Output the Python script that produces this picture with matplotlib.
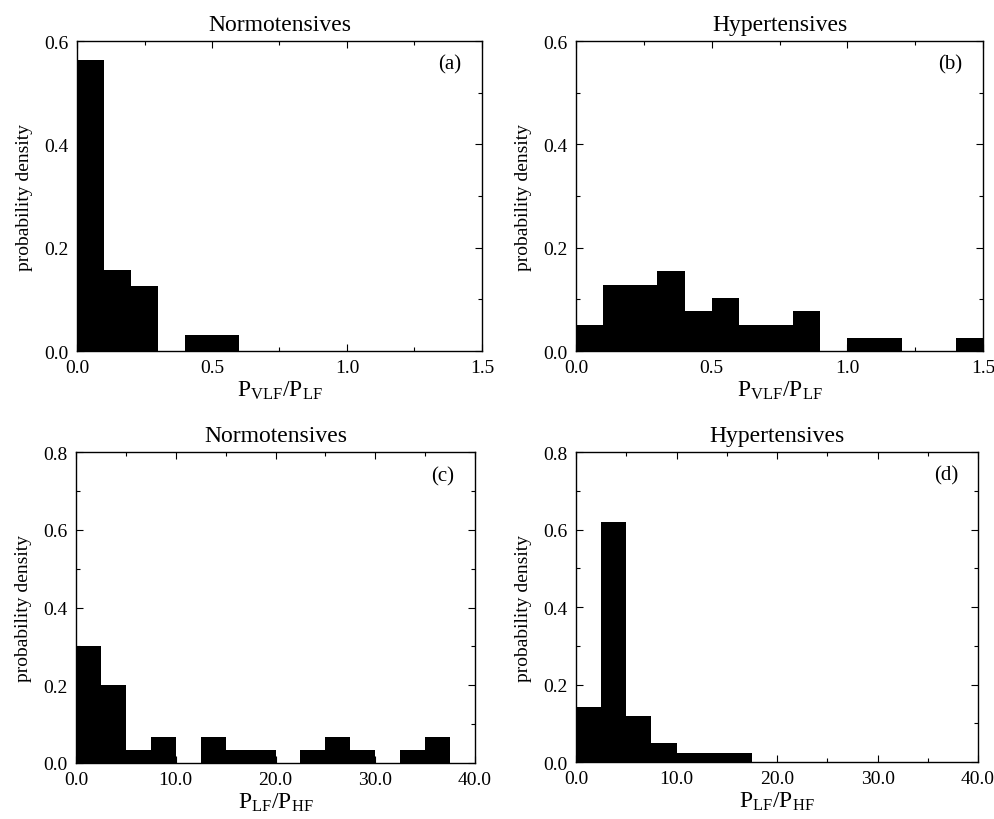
import numpy as np
import matplotlib
matplotlib.use("Agg")
import matplotlib.pyplot as plt
from matplotlib.ticker import MultipleLocator, FormatStrFormatter

plt.rcParams["font.family"] = ["Liberation Serif", "DejaVu Serif"]
plt.rcParams["mathtext.fontset"] = "custom"
plt.rcParams["mathtext.rm"] = "Liberation Serif"
plt.rcParams["mathtext.it"] = "Liberation Serif:italic"

# histogram heights (fraction per bin)
vlf_width = 0.1
vlf_normo = [0.5625, 0.156, 0.125, 0.0, 0.031, 0.031, 0, 0, 0, 0, 0, 0, 0, 0, 0]
vlf_hyper = [0.051, 0.128, 0.128, 0.154, 0.077, 0.103, 0.051, 0.051, 0.077, 0.0,
             0.026, 0.026, 0.0, 0.0, 0.026]

lfhf_width = 2.5
lfhf_normo = [0.30, 0.20, 0.033, 0.067, 0.0, 0.067, 0.033, 0.033, 0.0, 0.033,
              0.067, 0.033, 0.0, 0.033, 0.067, 0.0]
lfhf_hyper = [0.143, 0.619, 0.119, 0.048, 0.024, 0.024, 0.024, 0, 0, 0, 0, 0, 0, 0, 0, 0]

label_vlf = r"$\mathrm{P_{VLF}/P_{LF}}$"
label_lfhf = r"$\mathrm{P_{LF}/P_{HF}}$"

panels = [
    # heights, width, title, tag, xlabel, xmax, xmajor, ymax, rect
    (vlf_normo, vlf_width, "Normotensives", "(a)", label_vlf, 1.5, 0.5, 0.6,
     [0.0774, 0.5707, 0.407, 0.378]),
    (vlf_hyper, vlf_width, "Hypertensives", "(b)", label_vlf, 1.5, 0.5, 0.6,
     [0.579, 0.5707, 0.409, 0.378]),
    (lfhf_normo, lfhf_width, "Normotensives", "(c)", label_lfhf, 40.0, 10.0, 0.8,
     [0.0764, 0.0683, 0.401, 0.379]),
    (lfhf_hyper, lfhf_width, "Hypertensives", "(d)", label_lfhf, 40.0, 10.0, 0.8,
     [0.579, 0.0695, 0.404, 0.378]),
]

fig = plt.figure(figsize=(9.95, 8.2), dpi=100)

for heights, w, title, tag, xlab, xmax, xmaj, ymax, rect in panels:
    ax = fig.add_axes(rect)
    left = np.arange(len(heights)) * w
    ax.bar(left, heights, width=w, align="edge", color="black", linewidth=0)
    ax.set_xlim(0, xmax)
    ax.set_ylim(0, ymax)
    ax.xaxis.set_major_locator(MultipleLocator(xmaj))
    ax.xaxis.set_minor_locator(MultipleLocator(xmaj / 2))
    ax.yaxis.set_major_locator(MultipleLocator(0.2))
    ax.yaxis.set_minor_locator(MultipleLocator(0.1))
    ax.xaxis.set_major_formatter(FormatStrFormatter("%.1f"))
    ax.yaxis.set_major_formatter(FormatStrFormatter("%.1f"))
    ax.tick_params(which="both", direction="in", top=True, right=True,
                   labelsize=14, width=0.8)
    ax.tick_params(which="major", length=5, pad=6)
    ax.tick_params(which="minor", length=3)
    for s in ax.spines.values():
        s.set_linewidth(1.0)
    ax.set_title(title, fontsize=17, pad=8)
    ax.set_xlabel(xlab, fontsize=17, labelpad=2)
    ax.set_ylabel("probability density", fontsize=14, labelpad=8)
    ax.text(0.92, 0.925, tag, transform=ax.transAxes, fontsize=15,
            ha="center", va="center")

fig.savefig("out.png", dpi=100)
